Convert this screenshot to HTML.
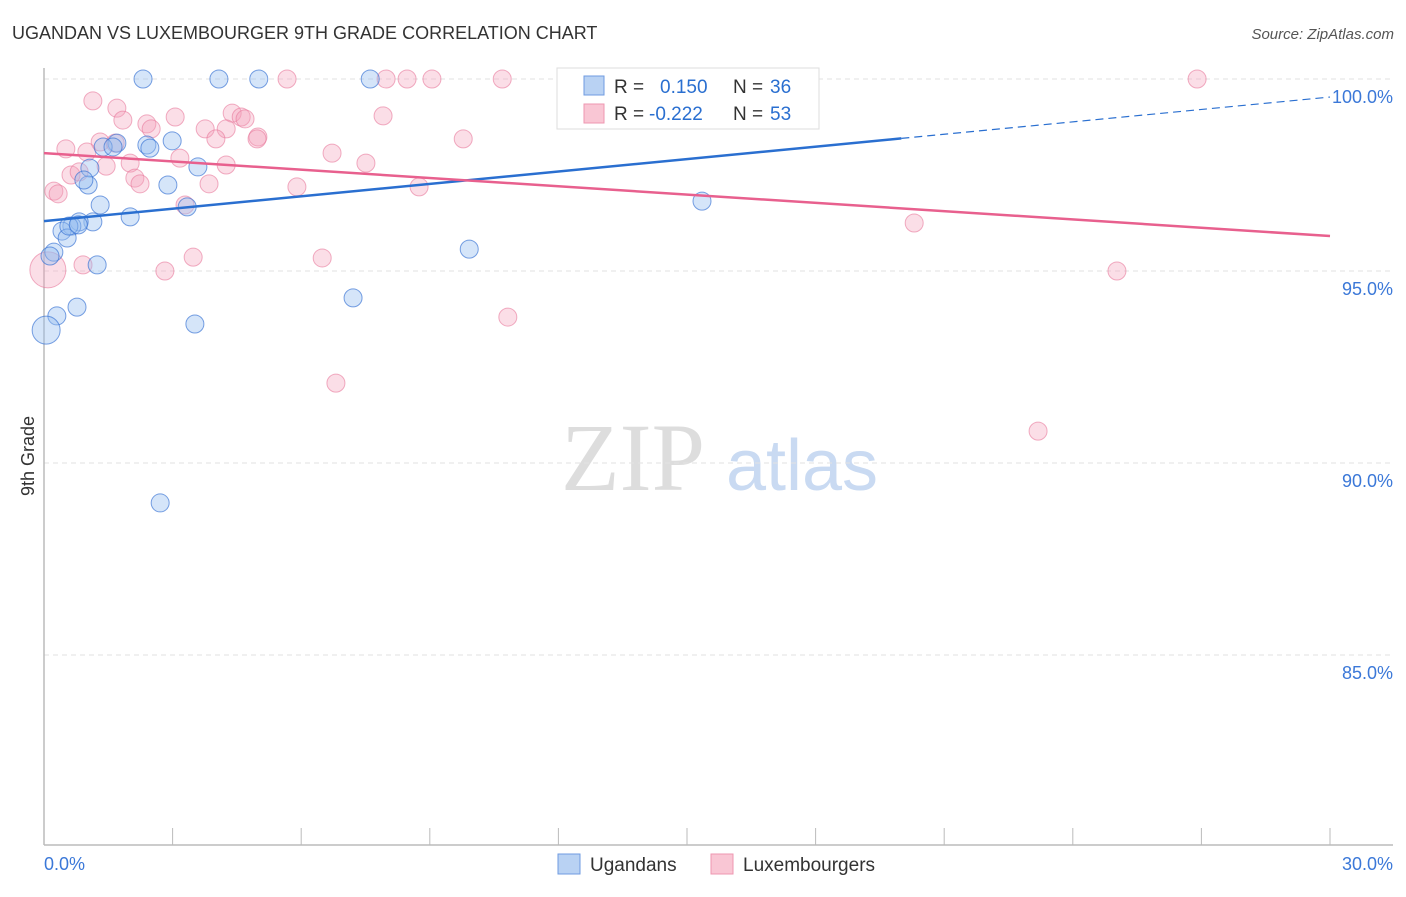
<!DOCTYPE html>
<html><head><meta charset="utf-8"><style>
body{margin:0;background:#fff;font-family:"Liberation Sans",sans-serif;}
</style></head><body>
<svg width="1406" height="892" xmlns="http://www.w3.org/2000/svg">
<text x="12" y="39" font-size="18" fill="#333">UGANDAN VS LUXEMBOURGER 9TH GRADE CORRELATION CHART</text>
<text x="1394" y="39" font-size="15" fill="#555" font-style="italic" text-anchor="end">Source: ZipAtlas.com</text>
<g>
<text x="633" y="490" font-size="96" fill="#ddd" font-family="Liberation Serif,serif" text-anchor="middle">ZIP</text>
<text x="802" y="490" font-size="72" fill="#c9daf2" text-anchor="middle">atlas</text>
</g>
<g id="grid"></g>
<g id="axes"></g>
<g id="marks"></g>
<g>
<rect x="557" y="68" width="262" height="61" fill="#fff" stroke="#ddd"/>
<rect x="584" y="76" width="20" height="19" fill="#b9d2f3" stroke="#6f9be0"/>
<rect x="584" y="104" width="20" height="19" fill="#f9c6d4" stroke="#ee97b0"/>
<text x="614" y="93" font-size="19" fill="#333">R = </text><text x="660" y="93" font-size="19" fill="#2a6fd0">0.150</text>
<text x="733" y="93" font-size="19" fill="#333">N = </text><text x="770" y="93" font-size="19" fill="#2a6fd0">36</text>
<text x="614" y="120" font-size="19" fill="#333">R = </text><text x="649" y="120" font-size="19" fill="#2a6fd0">-0.222</text>
<text x="733" y="120" font-size="19" fill="#333">N = </text><text x="770" y="120" font-size="19" fill="#2a6fd0">53</text>
</g>
<g>
<rect x="558" y="854" width="22" height="20" fill="#b9d2f3" stroke="#6f9be0"/>
<text x="590" y="871" font-size="19" fill="#333">Ugandans</text>
<rect x="711" y="854" width="22" height="20" fill="#f9c6d4" stroke="#ee97b0"/>
<text x="743" y="871" font-size="19" fill="#333">Luxembourgers</text>
</g>
<text transform="translate(34,456) rotate(-90)" font-size="18" fill="#333" text-anchor="middle">9th Grade</text>
</svg>
<script>
const yTicks=[100,95,90,85];
const blueX=[2.31,4.08,5.01,7.61,1.70,2.40,2.47,2.99,1.38,1.61,1.07,1.03,0.93,2.89,3.59,1.31,3.34,2.01,1.14,0.82,0.65,0.42,0.54,0.23,0.14,1.24,9.92,15.35,7.21,0.77,0.30,0.05,3.52,2.71,0.58,0.8];
const blueY=[100,100,100,100,98.33,98.28,98.20,98.39,98.23,98.23,97.68,97.24,97.37,97.24,97.71,96.72,96.67,96.41,96.28,96.28,96.17,96.04,95.86,95.49,95.39,95.16,95.57,96.82,94.30,94.06,93.83,93.46,93.62,88.96,96.17,96.2];
const pinkX=[5.67,7.98,8.47,9.05,10.69,26.90,1.14,1.70,1.84,3.06,2.40,2.50,4.39,4.60,4.69,3.76,4.25,4.99,4.97,1.31,0.51,1.00,1.66,4.01,7.91,9.78,6.72,3.17,2.01,1.45,4.25,7.51,0.63,0.82,2.12,2.24,3.85,5.90,8.75,0.23,0.33,3.29,20.30,0.91,2.82,3.48,6.49,25.03,0.09,10.82,6.81,23.19];
const pinkY=[100,100,100,100,100,100,99.43,99.24,98.93,99.01,98.83,98.70,99.11,99.01,98.96,98.70,98.70,98.49,98.44,98.36,98.18,98.10,98.33,98.44,99.04,98.44,98.07,97.94,97.81,97.73,97.76,97.81,97.50,97.58,97.42,97.27,97.27,97.19,97.19,97.08,97.01,96.72,96.25,95.16,95.00,95.36,95.34,95.00,95.03,93.80,92.08,90.83];
const blueTrend=[96.30,99.53];
const pinkTrend=[98.07,95.91];
const NS='http://www.w3.org/2000/svg';
const xs=v=>44+v/30*1286;
const ys=v=>79+(100-v)/5*192;
function mk(tag,attrs,parent){const e=document.createElementNS(NS,tag);for(const k in attrs)e.setAttribute(k,attrs[k]);document.getElementById(parent).appendChild(e);return e;}
yTicks.forEach(t=>{
 const l=mk('line',{x1:44,x2:1393,y1:ys(t),y2:ys(t),stroke:'#e2e2e2','stroke-dasharray':'5,4'},'grid');
 
 
 const tx=mk('text',{x:1393,y:ys(t)+24,'font-size':18,fill:'#3b78d8','text-anchor':'end'},'grid');
 tx.textContent=t.toFixed(1)+'%';
 
 
});
const ya=mk('line',{x1:44,x2:44,y1:68,y2:845,stroke:'#bbb','stroke-width':1.5},'axes');


const xa=mk('line',{x1:44,x2:1393,y1:845,y2:845,stroke:'#bbb','stroke-width':1.5},'axes');


for(let i=1;i<=10;i++){const t=mk('line',{x1:xs(i*3),x2:xs(i*3),y1:828,y2:845,stroke:'#bbb'},'axes');
 
 }
[[0,'0.0%','start',44],[30,'30.0%','end',1393]].forEach(a=>{const t=mk('text',{x:a[3],y:870,'font-size':18,fill:'#3b78d8','text-anchor':a[2]},'axes');t.textContent=a[1];
 
 });
pinkX.forEach((x,i)=>{const big=(i==48);const c=mk('circle',{cx:xs(x),cy:ys(pinkY[i]),r:big?18:9,fill:'rgba(244,160,185,0.35)',stroke:'rgba(232,120,155,0.6)'},'marks');
 
 });
blueX.forEach((x,i)=>{const big=(i==31);const c=mk('circle',{cx:xs(x),cy:ys(blueY[i]),r:big?14:9,fill:'rgba(150,190,240,0.4)',stroke:'rgba(50,110,210,0.65)'},'marks');
 
 });
const bx=20;const by=blueTrend[0]+(blueTrend[1]-blueTrend[0])*bx/30;
const b1=mk('line',{x1:xs(0),y1:ys(blueTrend[0]),x2:xs(bx),y2:ys(by),stroke:'#2a6fd0','stroke-width':2.5},'marks');


const b2=mk('line',{x1:xs(bx),y1:ys(by),x2:xs(30),y2:ys(blueTrend[1]),stroke:'#2a6fd0','stroke-width':1.2,'stroke-dasharray':'8,5'},'marks');


const p1=mk('line',{x1:xs(0),y1:ys(pinkTrend[0]),x2:xs(30),y2:ys(pinkTrend[1]),stroke:'#e8608e','stroke-width':2.5},'marks');


</script>
</body></html>
